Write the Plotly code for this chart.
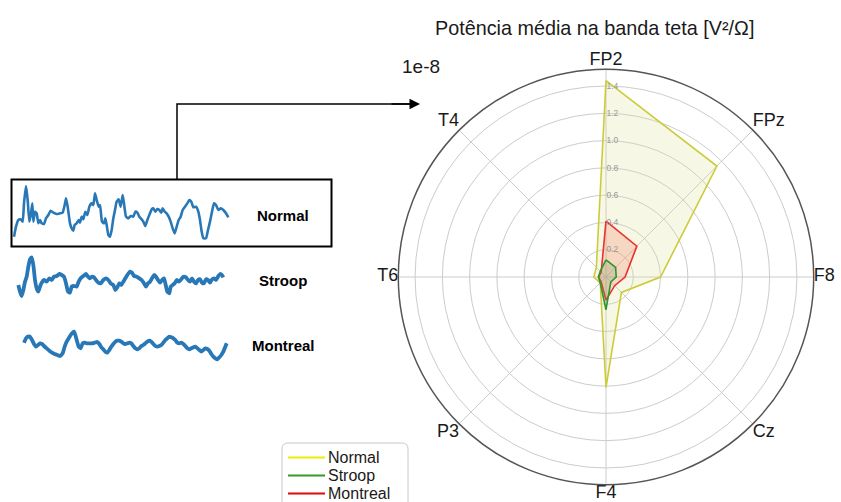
import plotly.graph_objects as go

# ---- theta-band mean power per electrode (x 1e-8) ----
electrodes = ["FP2", "FPz", "F8", "Cz", "F4", "P3", "T6", "T4"]
power_normal = [1.44, 1.15, 0.40, 0.16, 0.81, 0.06, 0.09, 0.10]
power_stroop = [0.125, 0.10, 0.075, 0.05, 0.24, 0.06, 0.055, 0.06]
power_montreal = [0.41, 0.32, 0.14, 0.09, 0.17, 0.05, 0.055, 0.05]
radial_ticks = [0.2, 0.4, 0.6, 0.8, 1.0, 1.2, 1.4]

# ---- example EEG excerpts (sample index, amplitude) ----
normal_t = [42, 48, 55, 62, 68, 72, 78, 83, 88, 93, 97, 100, 105, 110, 115, 120, 125, 132, 138, 145,
            152, 160, 170, 180, 188, 194, 198, 203, 210, 215, 220, 224, 230, 236, 240, 245, 250, 256,
            262, 268, 275, 280, 285, 290, 296, 300, 306, 312, 316, 320, 325, 330, 335, 340, 345, 350,
            356, 362, 368, 372, 378, 385, 392, 400, 406, 412, 418, 425, 430, 436, 442, 448, 455, 460,
            466, 472, 478, 484, 488, 494, 500, 506, 512, 518, 524, 530, 536, 542, 548, 555, 562, 568,
            574, 580, 588, 595, 600, 605, 610, 618, 624, 630, 636, 642, 648, 655, 662, 670, 678, 685]
normal_uv = [-50, -20, 0, 2, -5, 50, 102, 60, -5, 20, 50, -5, 25, 20, -10, 0, -10, -12, 5, 15,
             28, 22, 18, 20, 22, 45, 65, 40, -10, -25, -32, -15, -10, 0, -8, 10, 2, 25,
             15, 40, 50, 45, 80, 60, 40, 45, -5, -10, 5, -15, -45, -50, -30, 5, 30, 55,
             62, 40, 75, 50, 10, 5, 12, 10, 25, 22, 10, 2, -5, -18, 0, 15, 32, 35,
             25, 33, 30, 22, 35, 25, 20, 10, -5, -25, -40, -20, 0, 10, 30, 40, 50, 60,
             55, 38, 40, 25, 0, -35, -55, -55, -30, -5, 25, 50, 45, 30, 35, 30, 20, 8]

stroop_t = [55, 60, 65, 70, 75, 80, 85, 90, 95, 100, 105, 110, 115, 120, 125, 132, 140, 148, 155, 162,
            170, 178, 185, 192, 198, 204, 210, 215, 222, 230, 236, 242, 250, 258, 264, 270, 276, 282,
            288, 295, 302, 310, 318, 325, 332, 340, 346, 352, 358, 364, 370, 376, 382, 390, 396, 402,
            410, 418, 425, 432, 438, 444, 450, 456, 462, 468, 474, 480, 486, 492, 496, 502, 508, 512,
            518, 524, 530, 536, 542, 550, 558, 564, 570, 576, 582, 588, 594, 600, 606, 612, 618, 624,
            630, 636, 642, 648, 654, 660, 666, 670]
stroop_uv = [-15, -35, -48, -30, -5, 10, 40, 62, 68, 45, 0, -25, -35, -20, -8, 0, -5, 5, 0, 10,
             12, 18, 15, 10, -10, -35, -38, -20, -18, -20, -5, 5, 12, 18, 10, 5, 10, 8,
             0, -8, -10, 0, 5, 0, -10, -15, -30, -22, -10, -15, -5, 5, 15, 25, 22, 12,
             10, 5, 0, -10, -20, -10, -5, 5, 15, 10, 0, -8, 0, 5, -10, -35, -40, -20,
             -15, -10, 0, -5, 0, 10, 8, 0, -5, 5, -5, -10, 0, 2, -8, -10, 2, 0,
             -8, 2, 5, 0, 10, 18, 15, 8]

montreal_t = [72, 78, 84, 90, 96, 102, 108, 114, 120, 126, 132, 140, 148, 156, 164, 172, 180, 188, 194, 200,
              206, 212, 218, 222, 226, 230, 236, 242, 248, 254, 260, 268, 276, 284, 292, 298, 304, 310,
              316, 322, 328, 334, 340, 346, 352, 358, 364, 370, 376, 382, 388, 394, 400, 406, 412, 418,
              424, 430, 436, 442, 448, 454, 460, 466, 472, 478, 484, 490, 496, 502, 508, 514, 520, 526,
              532, 538, 544, 550, 556, 562, 568, 574, 580, 586, 592, 598, 604, 610, 616, 622, 628, 634,
              640, 646, 652, 658, 664, 670, 676, 680]
montreal_uv = [7, 20, 25, 25, 15, 3, -5, 0, 5, 3, -3, -10, -17, -23, -27, -30, -33, -25, -5, 10,
               20, 30, 37, 40, 30, 15, -5, -10, 5, 7, 5, 5, 5, 7, 9, 3, -7, -13,
               -20, -23, -15, -5, 3, 10, 13, 13, 10, 5, 3, 5, 7, 5, -3, -10, -13, -10,
               -3, 0, 5, 10, 13, 10, 3, -3, -5, -3, 0, 7, 15, 20, 25, 23, 20, 15,
               7, 5, 7, 3, -3, -10, -13, -10, -7, -5, -10, -15, -20, -15, -10, -12, -17, -27,
               -35, -40, -43, -37, -30, -20, -5, 5]

conditions = ["Normal", "Stroop", "Montreal"]
legend_colors = ["#eeee00", "#339a2a", "#e00808"]

W, H = 841, 502
FONT = "Liberation Sans, Arial, sans-serif"
EEG_BLUE = "#2878b8"


def px_x(x):
    return x / W


def px_y(y):
    return (H - y) / H


fig = go.Figure()

# polar geometry: centre and outer radius in pixels, radial extent
cx, cy, R = 606, 277, 207.7
rmax = 1.523

# ---- radar chart ----
polar_specs = [
    ("Normal", power_normal, "#cccc3a", "rgba(222,222,150,0.25)"),
    ("Montreal", power_montreal, "#ec2f2f", "rgba(240,120,90,0.25)"),
    ("Stroop", power_stroop, "#2c962c", "rgba(120,160,100,0.25)"),
]
for name, vals, line_c, fill_c in polar_specs:
    fig.add_trace(go.Scatterpolar(
        r=vals + vals[:1], theta=electrodes + electrodes[:1],
        mode="lines", fill="toself", fillcolor=fill_c,
        line=dict(color=line_c, width=1.6),
        name=name, showlegend=False,
    ))

# electrode names sitting just outside the outer ring
label_side = {"FP2": "top center", "FPz": "top right", "F8": "middle right",
              "Cz": "bottom right", "F4": "bottom center", "P3": "bottom left",
              "T6": "middle left", "T4": "top left"}
fig.add_trace(go.Scatterpolar(
    r=[rmax] * len(electrodes), theta=electrodes, mode="text",
    text=electrodes, textposition=[label_side[e] for e in electrodes],
    textfont=dict(size=18, color="#1a1a1a", family=FONT),
    cliponaxis=False, showlegend=False, hoverinfo="skip",
))

# ---- EEG excerpts ----
eeg = [
    (normal_t, normal_uv, "y", 2.6),
    (stroop_t, stroop_uv, "y2", 3.8),
    (montreal_t, montreal_uv, "y3", 3.8),
]
for t, v, yax, lw in eeg:
    fig.add_trace(go.Scatter(
        x=t, y=v, xaxis="x", yaxis=yax, mode="lines",
        line=dict(color=EEG_BLUE, width=lw, shape="spline", smoothing=0.4),
        showlegend=False, hoverinfo="skip",
    ))

axis_off = dict(visible=False, fixedrange=True)
fig.update_layout(
    width=W, height=H,
    margin=dict(l=0, r=0, t=0, b=0),
    paper_bgcolor="white", plot_bgcolor="white",
    font=dict(family=FONT, color="#1a1a1a"),
    showlegend=False,
    polar=dict(
        domain=dict(x=[px_x(cx - R), px_x(cx + R)], y=[px_y(cy + R), px_y(cy - R)]),
        bgcolor="white",
        angularaxis=dict(
            categoryorder="array", categoryarray=electrodes,
            rotation=90, direction="clockwise", showticklabels=False,
            showline=True, linecolor="#555555", linewidth=1.5,
            gridcolor="#cccccc", gridwidth=1.2, ticks="",
        ),
        radialaxis=dict(
            range=[0, rmax], angle=90, tickangle=90,
            tickvals=radial_ticks, ticktext=[f"{v:.1f}" for v in radial_ticks],
            tickfont=dict(size=8.5, color="#999999", family=FONT),
            showline=False, gridcolor="#cccccc", gridwidth=1.2, ticks="",
        ),
    ),
    xaxis=dict(domain=[0, px_x(340)], range=[0, 1020], **axis_off),
    yaxis=dict(domain=[px_y(250), px_y(170)], range=[-90, 150], anchor="x", **axis_off),
    yaxis2=dict(domain=[px_y(310), px_y(250)], range=[-90, 90], anchor="x", **axis_off),
    yaxis3=dict(domain=[px_y(375), px_y(315)], range=[-90, 90], anchor="x", **axis_off),
)

# box around the normal excerpt, and the connector arrow
fig.add_shape(type="rect", xref="paper", yref="paper",
              x0=px_x(11.5), x1=px_x(331.5), y0=px_y(246.5), y1=px_y(179.5),
              line=dict(color="black", width=2))
fig.add_shape(type="path", xref="paper", yref="paper",
              path=f"M {px_x(177)} {px_y(179.5)} L {px_x(177)} {px_y(104)} L {px_x(410)} {px_y(104)}",
              line=dict(color="black", width=1.5))
fig.add_annotation(x=px_x(420), y=px_y(104), xref="paper", yref="paper",
                   ax=-30, ay=0, text="", showarrow=True,
                   arrowhead=2, arrowsize=1.4, arrowwidth=1.5, arrowcolor="black")

for txt, yy in zip(conditions, [216, 280, 345]):
    fig.add_annotation(x=px_x(283), y=px_y(yy), xref="paper", yref="paper",
                       text=f"<b>{txt}</b>", showarrow=False,
                       xanchor="center", yanchor="middle",
                       font=dict(size=15, family=FONT, color="black"))

fig.add_annotation(x=px_x(594), y=px_y(28), xref="paper", yref="paper",
                   text="Potência média na banda teta [V²/Ω]", showarrow=False,
                   xanchor="center", yanchor="middle",
                   font=dict(size=19.8, family=FONT, color="#1a1a1a"))
fig.add_annotation(x=px_x(421), y=px_y(66), xref="paper", yref="paper",
                   text="1e-8", showarrow=False, xanchor="center", yanchor="middle",
                   font=dict(size=19, family=FONT, color="#1a1a1a"))

# legend box (rounded frame, line samples and labels)
lx0, lx1, ly0, ly1, rc = 282, 408, 443, 510, 6
frame = (f"M {px_x(lx0 + rc)} {px_y(ly0)} L {px_x(lx1 - rc)} {px_y(ly0)} "
         f"Q {px_x(lx1)} {px_y(ly0)} {px_x(lx1)} {px_y(ly0 + rc)} "
         f"L {px_x(lx1)} {px_y(ly1)} L {px_x(lx0)} {px_y(ly1)} "
         f"L {px_x(lx0)} {px_y(ly0 + rc)} Q {px_x(lx0)} {px_y(ly0)} {px_x(lx0 + rc)} {px_y(ly0)} Z")
fig.add_shape(type="path", xref="paper", yref="paper", path=frame,
              line=dict(color="#c8c8c8", width=1), fillcolor="white")
for i, (name, c) in enumerate(zip(conditions, legend_colors)):
    yy = 457.5 + 18 * i
    fig.add_shape(type="line", xref="paper", yref="paper",
                  x0=px_x(288), x1=px_x(325), y0=px_y(yy), y1=px_y(yy),
                  line=dict(color=c, width=2))
    fig.add_annotation(x=px_x(327), y=px_y(yy), xref="paper", yref="paper",
                       text=name, showarrow=False, xanchor="left", yanchor="middle",
                       borderpad=0,
                       font=dict(size=16, family=FONT, color="#1a1a1a"))

fig.write_html("out.html")
